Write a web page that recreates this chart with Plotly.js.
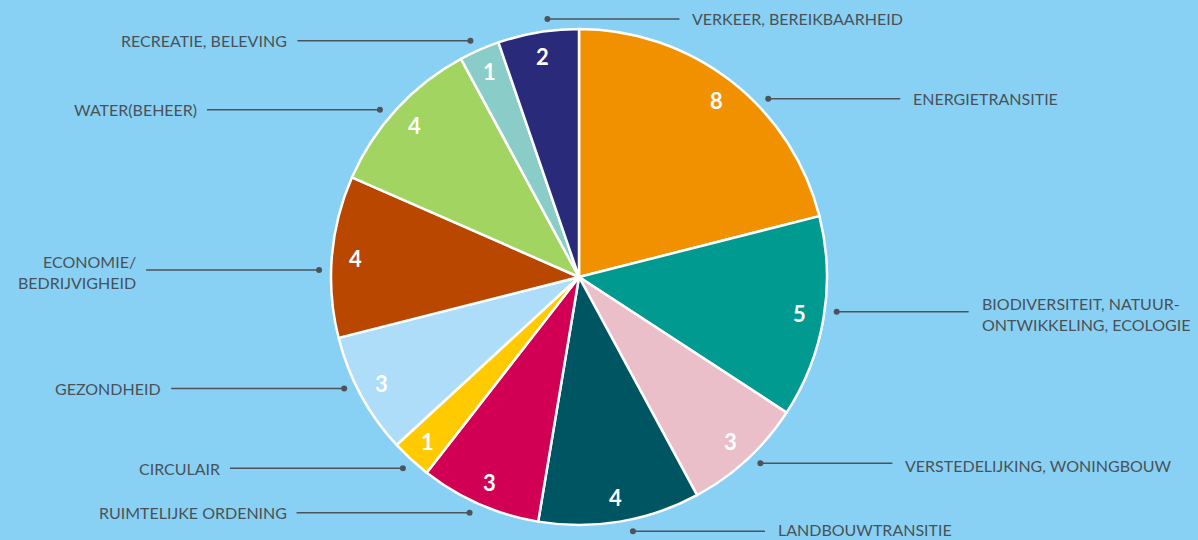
<!DOCTYPE html>
<html><head><meta charset="utf-8">
<script src="https://cdn.plot.ly/plotly-3.0.1.min.js"></script>
<style>html,body{margin:0;padding:0;background:#88D1F4;}</style>
</head><body>
<div id="chart" style="width:1198px;height:540px;"></div>
<script>
// ---- data ----
const categories = [
  "ENERGIETRANSITIE",
  "BIODIVERSITEIT, NATUUR-<br>ONTWIKKELING, ECOLOGIE",
  "VERSTEDELIJKING, WONINGBOUW",
  "LANDBOUWTRANSITIE",
  "RUIMTELIJKE ORDENING",
  "CIRCULAIR",
  "GEZONDHEID",
  "ECONOMIE/<br>BEDRIJVIGHEID",
  "WATER(BEHEER)",
  "RECREATIE, BELEVING",
  "VERKEER, BEREIKBAARHEID"
];
const counts = [8, 5, 3, 4, 3, 1, 3, 4, 4, 1, 2];
const colors = ["#F29100","#009A91","#EBBFCA","#005563","#D20055","#FFCB00",
                "#ADDDF8","#B94700","#A2D462","#8ACCC8","#2A2A7A"];

// ---- layout config (pixels) ----
const W = 1198, H = 540;
const CX = 579, CY = 277, R = 248;
const numR = 224;          // radius of the value labels
const dotR = 260;          // radius of the leader dots
const angleNudge = [8.8, -1.8, -1.6, -2.5, 1.2, 0, 3, -3.2, -2.6, -1, 2.5];
const labelSide = ["r","r","r","r","l","l","l","l","l","l","r"];
const textShiftY = [0, 2, 2, 0, 0, 0, 0, 2, 0, 0, 0];
const textColor = "#4A5158";
const lineColor = "#4D5358";

const px = x => x / W;
const py = y => 1 - y / H;

const total = counts.reduce((a, b) => a + b, 0);
let cum = 0;
const annotations = [];
const shapes = [];
counts.forEach((v, i) => {
  const mid = (cum + v / 2) / total * 2 * Math.PI;
  cum += v;
  // value label
  annotations.push({
    x: px(CX + numR * Math.sin(mid)), y: py(CY - numR * Math.cos(mid)),
    xref: "paper", yref: "paper", showarrow: false,
    text: String(v), xanchor: "center", yanchor: "middle",
    font: {family: "Lato, sans-serif", size: 22, color: "#FFFFFF", weight: 700}
  });
  // leader
  const a = mid + angleNudge[i] * Math.PI / 180;
  const dx = CX + dotR * Math.sin(a), dy = CY - dotR * Math.cos(a);
  const isRight = labelSide[i] === "r";
  const lineEnd = isRight ? dx + 132 : dx - 173;
  shapes.push({type: "line", xref: "paper", yref: "paper",
    x0: px(dx), y0: py(dy), x1: px(lineEnd), y1: py(dy),
    line: {color: lineColor, width: 1.5}});
  shapes.push({type: "circle", xref: "paper", yref: "paper",
    x0: px(dx - 3), y0: py(dy - 3), x1: px(dx + 3), y1: py(dy + 3),
    fillcolor: lineColor, line: {width: 0}});
  const ty = Math.min(dy + textShiftY[i], H - 11);
  annotations.push({
    x: px(isRight ? dx + 143 : dx - 181), y: py(ty),
    xref: "paper", yref: "paper", showarrow: false,
    text: categories[i], xanchor: isRight ? "left" : "right", yanchor: "middle",
    align: isRight ? "left" : "right",
    font: {family: "Lato, sans-serif", size: 16, color: textColor}
  });
});

const trace = {
  type: "pie",
  values: counts,
  labels: categories,
  marker: {colors: colors, line: {color: "#FFFFFF", width: 2.5}},
  sort: false,
  direction: "clockwise",
  rotation: 0,
  textinfo: "none",
  hoverinfo: "label+value",
  showlegend: false,
  domain: {x: [px(CX - R), px(CX + R)], y: [py(CY + R), py(CY - R)]}
};

const layout = {
  width: W, height: H,
  margin: {l: 0, r: 0, t: 0, b: 0},
  paper_bgcolor: "#88D1F4",
  plot_bgcolor: "#88D1F4",
  showlegend: false,
  annotations: annotations,
  shapes: shapes
};

Plotly.newPlot("chart", [trace], layout, {displayModeBar: false, staticPlot: true});
</script>
</body></html>
